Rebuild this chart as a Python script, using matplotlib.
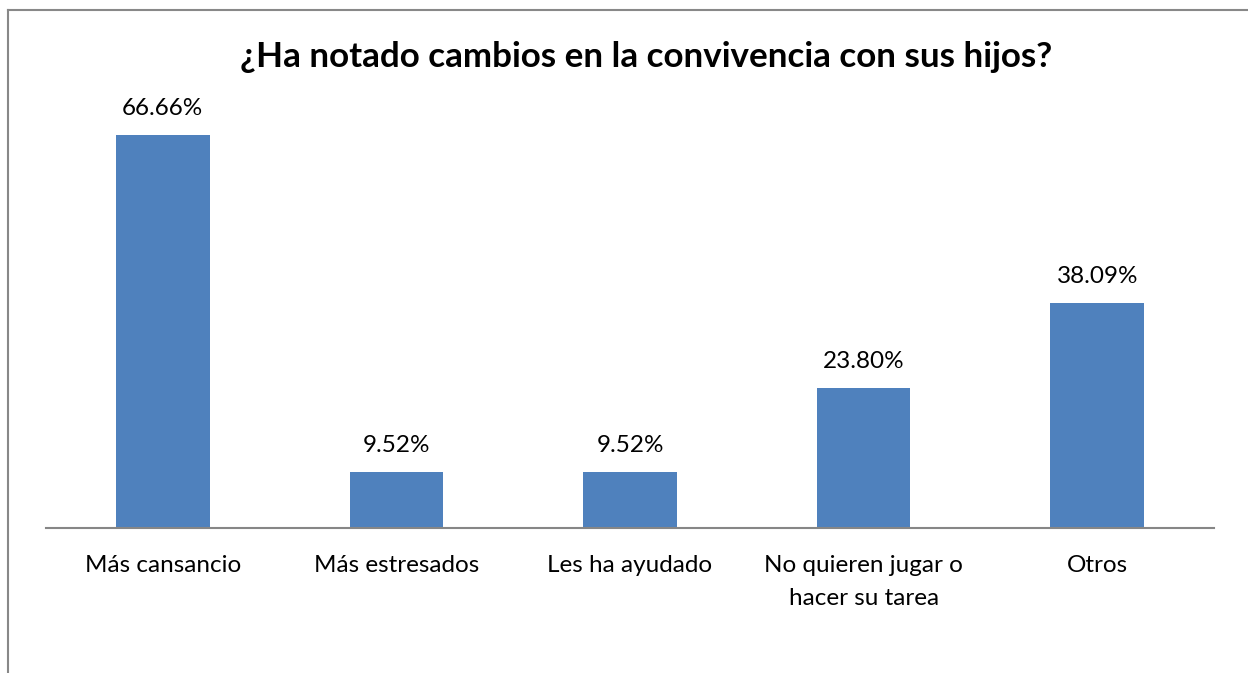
import matplotlib
matplotlib.use('Agg')
import matplotlib.pyplot as plt
from matplotlib.lines import Line2D

plt.rcParams['font.family'] = ['Lato', 'DejaVu Sans']

categories = ['Más cansancio', 'Más estresados', 'Les ha ayudado',
              'No quieren jugar o\nhacer su tarea', 'Otros']
values = [66.66, 9.52, 9.52, 23.80, 38.09]
labels = ['66.66%', '9.52%', '9.52%', '23.80%', '38.09%']
title = '¿Ha notado cambios en la convivencia con sus hijos?'

fig = plt.figure(figsize=(12.48, 6.73), dpi=100)
W, H = 1248, 673
ax = fig.add_axes([46 / W, 1 - 528 / H, (1214 - 46) / W, (528 - 115) / H])

x = range(len(categories))
ax.bar(x, values, width=0.4, color='#4F81BD')
ax.set_xlim(-0.5, 4.5)
ax.set_ylim(0, 70)

for xi, v, lab in zip(x, values, labels):
    ax.annotate(lab, (xi, v), xytext=(0, 19), textcoords='offset points',
                ha='center', va='center', fontsize=17.5)

ax.set_xticks(list(x))
ax.set_xticklabels(categories, fontsize=17.5, linespacing=1.7, va='top')
ax.tick_params(axis='x', length=0, pad=19.5)
ax.set_yticks([])
for s in ['top', 'right', 'left']:
    ax.spines[s].set_visible(False)
ax.spines['bottom'].set_color('#868686')
ax.spines['bottom'].set_linewidth(1.5)

fig.text(646 / W, 1 - 57 / H, title, ha='center', va='center',
         fontsize=25.2, fontweight='bold')

# outer chart border (top and left only visible)
fig.add_artist(Line2D([8 / W, 8 / W], [0, 1 - 10 / H], color='#888888', lw=1.5,
                      transform=fig.transFigure))
fig.add_artist(Line2D([8 / W, 1], [1 - 10 / H, 1 - 10 / H], color='#888888', lw=1.5,
                      transform=fig.transFigure))

fig.savefig('out.png', dpi=100)
